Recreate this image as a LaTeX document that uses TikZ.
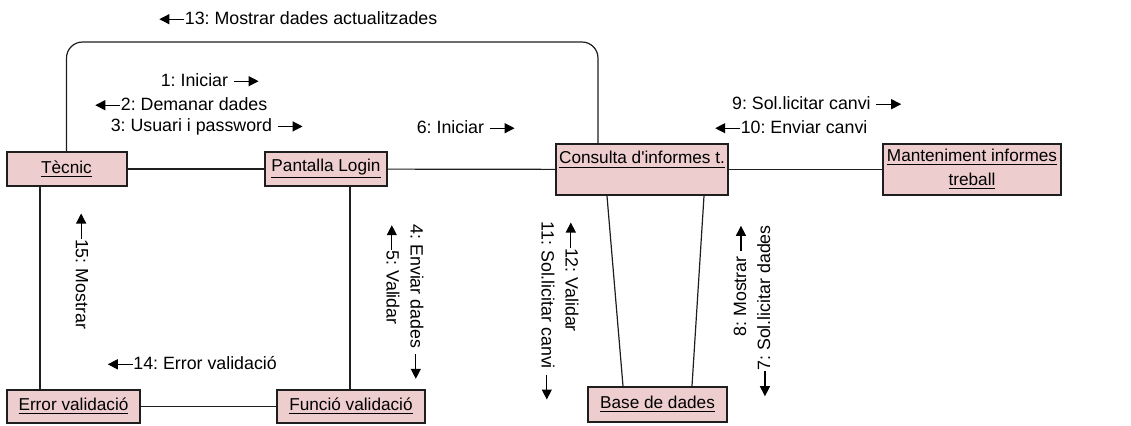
\documentclass[tikz,border=0pt]{standalone}
\usepackage{fontspec}
\setmainfont{Liberation Sans}
\usetikzlibrary{arrows.meta,calc}
\definecolor{objPink}{RGB}{237,205,205}
\definecolor{lnDark}{RGB}{30,30,30}
\frenchspacing
\newcommand{\msgR}{\tikz[baseline=-0.55ex]\draw[line width=0.6pt,-{Triangle[length=5pt,width=5pt]}] (0pt,0pt) -- (12.5pt,0pt);}
\newcommand{\msgL}{\tikz[baseline=-0.55ex]\draw[line width=0.6pt,-{Triangle[length=5pt,width=5pt]}] (12.5pt,0pt) -- (0pt,0pt);}

\begin{document}
\begin{tikzpicture}[x=0.5pt,y=-0.5pt,font=\fontsize{8.9}{12}\selectfont]
  \tikzset{obj/.style={draw=lnDark,line width=1pt,fill=objPink,minimum width=#1,minimum height=17pt,inner sep=1pt,align=center,font=\fontsize{8.6}{11.8}\selectfont},
    conn/.style={draw=lnDark,line width=0.6pt},
    msg/.style={inner sep=0pt}}
  \useasboundingbox (0,0) rectangle (1131,425);
  \node[obj=60pt] (tec) at (66.5,169) {\underline{Tècnic}};
  \node[obj=61pt] (login) at (326,169) {\underline{Pantalla Login}};
  \node[obj=86pt,minimum height=25.5pt] (cons) at (642,169.5) {\underline{Consulta d\textquotesingle informes t.}\\\mbox{}};
  \node[obj=89pt,minimum height=25.5pt] (mant) at (972,169.5) {\underline{Manteniment informes}\\\underline{treball}};
  \node[obj=66.5pt,minimum height=16.5pt] (err) at (73.5,406.5) {\underline{Error validació}};
  \node[obj=74pt,minimum height=16.5pt] (func) at (351,406.5) {\underline{Funció validació}};
  \node[obj=69.5pt,minimum height=17.5pt] (bd) at (657.5,404.5) {\underline{Base de dades}};
  \coordinate (loopTop) at (598,42);
  \draw[conn] (tec) -- (login);
  \draw[conn] (login) -- (cons);
  \draw[conn] (cons) -- (mant);
  \draw[conn] ($(tec.south)+(-26.5,0)$) -- ($(err.north)+(-33.5,0)$);
  \draw[conn] ($(login.south)+(24,0)$) -- ($(func.north)+(-1,0)$);
  \draw[conn] (err) -- (func);
  \draw[conn] ($(cons.south)+(-35,0)$) -- ($(bd.north)+(-34.5,0)$);
  \draw[conn] ($(cons.south)+(62,0)$) -- ($(bd.north)+(34.5,0)$);
  \draw[conn,rounded corners=8pt] (tec.north) |- (loopTop) -- (loopTop |- cons.north);
  % messages
  \node[msg] (m13) at (298,18) {\msgL13: Mostrar dades actualitzades};
  \node[msg] (m1) at (210,80) {1: Iniciar \msgR};
  \node[msg] (m2) at (181,104) {\msgL2: Demanar dades};
  \node[msg] (m3) at (207,127) {3: Usuari i password \msgR};
  \node[msg] (m6) at (466,127) {6: Iniciar \msgR};
  \node[msg] (m9) at (817,103) {9: Sol.licitar canvi \msgR};
  \node[msg] (m10) at (791,127) {\msgL10: Enviar canvi};
  \node[msg] (m14) at (192,363) {\msgL14: Error validació};
  \node[msg,rotate=-90] (m15) at (82,271) {\msgL15: Mostrar};
  \node[msg,rotate=-90,align=left] (m45) at (405,302) {4: Enviar dades \msgR\\\msgL5: Validar};
  \node[msg,rotate=-90,align=left] (m1211) at (560,311) {\msgL12: Validar\\11: Sol.licitar canvi \msgR};
  \node[msg,rotate=90,align=right] (m87) at (752,311) {8: Mostrar \msgR\\\msgL7: Sol.licitar dades};
\end{tikzpicture}
\end{document}
